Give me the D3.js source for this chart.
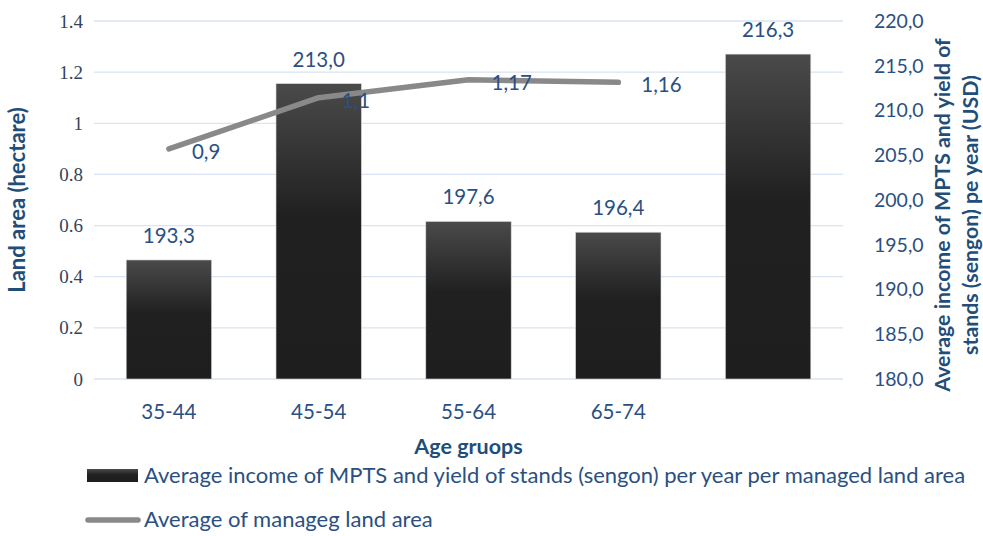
<!DOCTYPE html>
<html lang="en">
<head>
    <meta charset="UTF-8">
    <title>Income and land area by age group</title>
    <script src="https://cdn.jsdelivr.net/npm/d3@7/dist/d3.min.js"></script>
    <style>
        body { margin: 0; background: #fff; }
    </style>
</head>
<body>
<svg width="983" height="536" id="main"></svg>
<script>
    // data
    const categories = ['35-44', '45-54', '55-64', '65-74', ''];
    const incomeValues = [193.3, 213.0, 197.6, 196.4, 216.3];
    const landAreaValues = [0.9, 1.1, 1.17, 1.16, null];
    const leftTicks = [0, 0.2, 0.4, 0.6, 0.8, 1, 1.2, 1.4];
    const rightTicks = [180, 185, 190, 195, 200, 205, 210, 215, 220];

    const blue = '#2a5082';
    const titleBlue = '#1f4e79';
    const sans = 'Lato, Open Sans, sans-serif';
    const fs = '20.5px';

    let svg = d3.select('#main');
    let margin = {top: 21, left: 94, right: 140, bottom: 157};
    const width = +svg.attr('width');
    const height = +svg.attr('height');
    const innerWidth = width - margin.left - margin.right;
    const innerHeight = height - margin.top - margin.bottom;

    let xScale = d3.scaleBand().domain(categories).range([0, innerWidth])
        .paddingInner(0.43).paddingOuter(0.215);
    let yLeft = d3.scaleLinear().domain([0, 1.4]).range([innerHeight, 0]);
    let yRight = d3.scaleLinear().domain([180, 220]).range([innerHeight, 0]);

    let defs = svg.append('defs');
    let grad = defs.append('linearGradient').attr('id', 'barGrad')
        .attr('x1', 0).attr('y1', 0).attr('x2', 0).attr('y2', 1);
    grad.append('stop').attr('offset', '0%').attr('stop-color', '#4a4a4a');
    grad.append('stop').attr('offset', '45%').attr('stop-color', '#202020');
    grad.append('stop').attr('offset', '100%').attr('stop-color', '#1e1e1e');

    let g = svg.append('g').attr('transform', `translate(${margin.left}, ${margin.top})`);

    // gridlines
    g.append('g').selectAll('line').data(leftTicks).join('line')
        .attr('x1', 0).attr('x2', innerWidth)
        .attr('y1', d => yLeft(d)).attr('y2', d => yLeft(d))
        .attr('stroke', '#d9e3f1').attr('stroke-width', 1.3);

    // left axis (serif labels)
    let leftAxis = d3.axisLeft(yLeft).tickValues(leftTicks).tickSize(0).tickPadding(11)
        .tickFormat(d => String(d));
    let la = g.append('g').call(leftAxis);
    la.select('.domain').remove();
    la.attr('font-family', null);
    la.selectAll('text')
        .style('font-family', '"Liberation Serif", Tinos, "Times New Roman", "DejaVu Serif", serif')
        .style('font-size', '19px').attr('fill', '#34445a');

    // right axis
    let rightAxis = d3.axisRight(yRight).tickValues(rightTicks).tickSize(0).tickPadding(31)
        .tickFormat(d => d3.format('.1f')(d).replace('.', ','));
    let ra = g.append('g').attr('transform', `translate(${innerWidth}, 0)`).call(rightAxis);
    ra.select('.domain').remove();
    ra.selectAll('text').style('font-family', sans).style('font-size', '19.5px').attr('fill', blue);

    // bottom axis
    let bottomAxis = d3.axisBottom(xScale).tickSize(0).tickPadding(25);
    let ba = g.append('g').attr('transform', `translate(0, ${innerHeight})`).call(bottomAxis);
    ba.select('.domain').remove();
    ba.selectAll('text').style('font-family', sans).style('font-size', fs).attr('fill', blue);

    // bars
    let bars = categories.map((c, i) => ({cat: c, value: incomeValues[i]}));
    g.append('g').selectAll('rect').data(bars).join('rect')
        .attr('x', d => xScale(d.cat))
        .attr('y', d => yRight(d.value))
        .attr('width', xScale.bandwidth())
        .attr('height', d => innerHeight - yRight(d.value))
        .attr('fill', 'url(#barGrad)')
        .attr('stroke', '#d8d8d8').attr('stroke-width', 0.6);

    g.append('g').selectAll('text').data(bars).join('text')
        .attr('x', d => xScale(d.cat) + xScale.bandwidth() / 2)
        .attr('y', d => yRight(d.value) - 17)
        .attr('text-anchor', 'middle')
        .style('font-family', sans).style('font-size', fs).attr('fill', blue)
        .text(d => d3.format('.1f')(d.value).replace('.', ','));

    // line
    let points = categories.map((c, i) => ({cat: c, value: landAreaValues[i]}))
        .filter(d => d.value !== null);
    let line = d3.line()
        .x(d => xScale(d.cat) + xScale.bandwidth() / 2)
        .y(d => yLeft(d.value));
    g.append('path').datum(points).attr('d', line)
        .attr('fill', 'none').attr('stroke', '#898989').attr('stroke-width', 5.5)
        .attr('stroke-linecap', 'round').attr('stroke-linejoin', 'round');

    g.append('g').selectAll('text').data(points).join('text')
        .attr('x', d => xScale(d.cat) + xScale.bandwidth() / 2 + 23)
        .attr('y', d => yLeft(d.value) + 10)
        .style('font-family', sans).style('font-size', fs).attr('fill', blue)
        .text(d => String(d.value).replace('.', ','));

    // axis titles
    svg.append('text')
        .attr('transform', `translate(25, 200) rotate(-90)`)
        .attr('text-anchor', 'middle')
        .style('font-family', sans).style('font-size', '22px').style('font-weight', 'bold')
        .attr('fill', titleBlue)
        .text('Land area (hectare)');

    let rt = svg.append('text')
        .attr('transform', `translate(950, 215) rotate(-90)`)
        .attr('text-anchor', 'middle')
        .style('font-family', sans).style('font-size', '21.3px').style('font-weight', 'bold')
        .attr('fill', titleBlue);
    rt.append('tspan').attr('x', 0).attr('y', 0).text('Average income of MPTS and yield of');
    rt.append('tspan').attr('x', 0).attr('y', 28).text('stands (sengon) pe year (USD)');

    svg.append('text')
        .attr('x', margin.left + innerWidth / 2).attr('y', 454)
        .attr('text-anchor', 'middle')
        .style('font-family', sans).style('font-size', '21.5px').style('font-weight', 'bold')
        .attr('fill', titleBlue)
        .text('Age gruops');

    // legend
    let legend = svg.append('g');
    legend.append('rect').attr('x', 87).attr('y', 469).attr('width', 51).attr('height', 13)
        .attr('fill', 'url(#barGrad)');
    legend.append('text').attr('x', 144).attr('y', 483)
        .style('font-family', sans).style('font-size', '22px').attr('fill', blue)
        .text('Average income of MPTS and yield of stands (sengon) per year per managed land area');
    legend.append('line').attr('x1', 88).attr('x2', 138).attr('y1', 520).attr('y2', 520)
        .attr('stroke', '#898989').attr('stroke-width', 5.5).attr('stroke-linecap', 'round');
    legend.append('text').attr('x', 144).attr('y', 527)
        .style('font-family', sans).style('font-size', '22px').attr('fill', blue)
        .text('Average of manageg land area');
</script>
</body>
</html>
